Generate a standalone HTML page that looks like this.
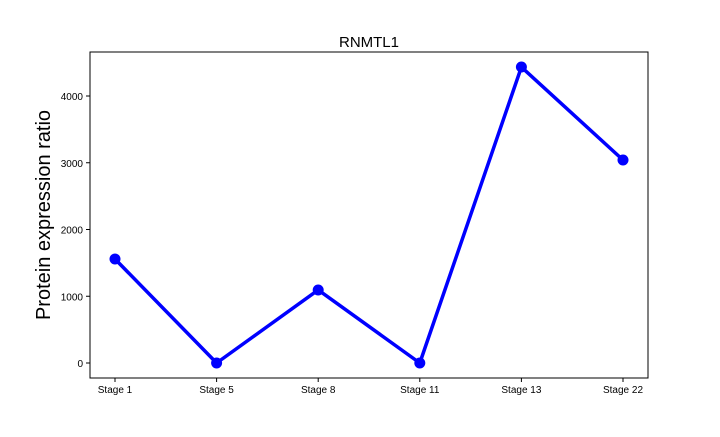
<!DOCTYPE html>
<html><head><meta charset="utf-8"><style>
body{margin:0;background:#fff;}
svg text{font-family:"Liberation Sans",sans-serif;fill:#000;}
</style></head><body>
<svg id="chart" width="720" height="432">
<rect x="90" y="52" width="558" height="326" fill="none" stroke="#000" stroke-width="1"/>
<text x="369" y="47" font-size="15" text-anchor="middle">RNMTL1</text>
<text transform="translate(50,215) rotate(-90)" font-size="20" text-anchor="middle">Protein expression ratio</text>
<g id="axes"></g>
<g id="marks"></g>
</svg>
<script>
const categories=["Stage 1","Stage 5","Stage 8","Stage 11","Stage 13","Stage 22"];
const values=[1558,0,1094,0,4434,3041];
const yTicks=[0,1000,2000,3000,4000];
const ns="http://www.w3.org/2000/svg";
function xs(i){return 115+i*101.6;}
function ys(v){return 363-v*0.06675;}
const axes=document.getElementById('axes'),marks=document.getElementById('marks');
function mk(tag,attrs,parent){const e=document.createElementNS(ns,tag);for(const k in attrs)e.setAttribute(k,attrs[k]);parent.appendChild(e);return e;}
yTicks.forEach(t=>{
 const l=mk('line',{x1:86,x2:90,y1:ys(t),y2:ys(t),stroke:'#000'},axes);
 
 
 const tx=mk('text',{x:83,y:ys(t)+4,'font-size':10,'text-anchor':'end'},axes);
 tx.textContent=t;
 
 
});
categories.forEach((c,i)=>{
 const l=mk('line',{x1:xs(i),x2:xs(i),y1:378,y2:382,stroke:'#000'},axes);
 
 
 const tx=mk('text',{x:xs(i),y:393,'font-size':10,'text-anchor':'middle'},axes);
 tx.textContent=c;
 
 
});
const pl=mk('polyline',{points:values.map((v,i)=>xs(i)+','+ys(v)).join(' '),fill:'none',stroke:'#0000ff','stroke-width':3.5,'stroke-linejoin':'round'},marks);


values.forEach((v,i)=>{
 const c=mk('circle',{cx:xs(i),cy:ys(v),r:5.5,fill:'#0000ff'},marks);
 
 
});
</script>
</body></html>
